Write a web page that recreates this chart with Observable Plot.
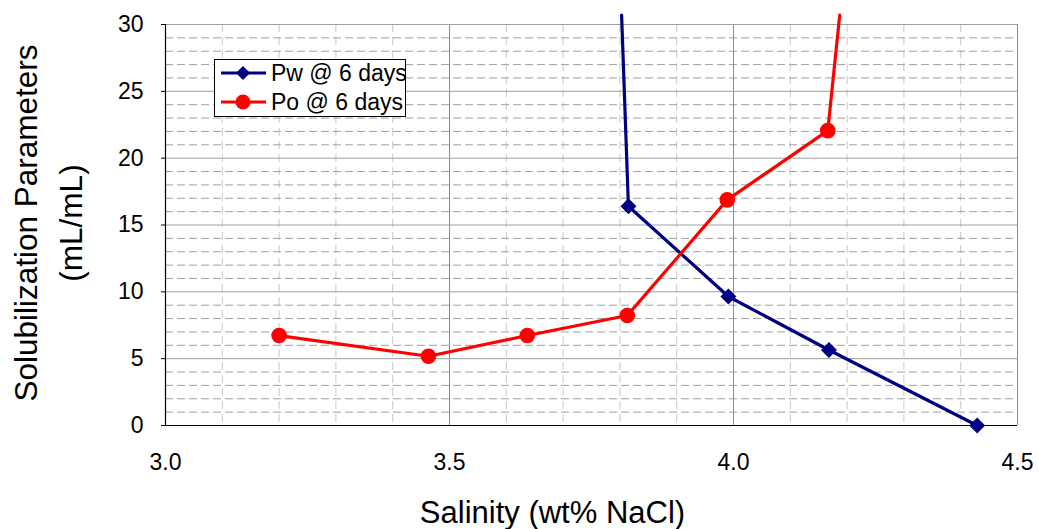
<!DOCTYPE html>
<html><head><meta charset="utf-8">
<script src="https://cdn.jsdelivr.net/npm/d3@7"></script>
<script src="https://cdn.jsdelivr.net/npm/@observablehq/plot@0.6"></script>
<style>
body{margin:0;background:#fff;font-family:"Liberation Sans",Arial,sans-serif}
#wrap{position:relative;width:1038px;height:529px}
#legend{position:absolute;left:214px;top:59px;width:190px;height:56px;border:1px solid #000;background:#fff}
.entry{position:absolute;left:6px;height:28px;display:flex;align-items:center;font-size:23px;color:#000;white-space:nowrap}
.entry svg{margin-right:5px}
</style></head><body><div id="wrap"></div>
<script>
// ---- data ----
const seriesNames = ["Pw @ 6 days", "Po @ 6 days"];
const seriesColors = ["#000080", "#ff0000"];
const pwSalinity = [3.815, 3.991, 4.168, 4.429];
const pwValue = [16.4, 9.65, 5.65, 0.0];
const poSalinity = [3.20, 3.463, 3.637, 3.813, 3.989, 4.166];
const poValue = [6.73, 5.18, 6.73, 8.23, 16.88, 22.06];
// lines continue off the top of the plot area
const pwOffSalinity = [3.803];
const pwOffValue = [30.7];
const poOffSalinity = [4.187];
const poOffValue = [30.7];
const xTicks = [3.0, 3.5, 4.0, 4.5];
const yTicks = [0, 5, 10, 15, 20, 25, 30];
const xTitle = "Salinity (wt% NaCl)";
const yTitle = "Solubilization Parameters\n(mL/mL)";

const pw = pwSalinity.map((x, i) => ({x, y: pwValue[i]}));
const po = poSalinity.map((x, i) => ({x, y: poValue[i]}));
const pwLine = [{x: pwOffSalinity[0], y: pwOffValue[0]}, ...pw];
const poLine = [...po, {x: poOffSalinity[0], y: poOffValue[0]}];

const xMinor = d3.range(31, 45).map(d => d / 10).filter(d => Math.abs(d * 2 - Math.round(d * 2)) > 1e-6);
const yMinor = d3.range(1, 30).filter(d => d % 5 !== 0);
const xMajorInner = xTicks.filter(d => d > 3.0);
const yMajorInner = yTicks.filter(d => d > 0);

const chart = Plot.plot({
  width: 1038, height: 529,
  marginLeft: 165, marginRight: 21, marginTop: 24, marginBottom: 104,
  style: {fontFamily: '"Liberation Sans", Arial, sans-serif', background: "#fff", color: "#000"},
  x: {domain: [3.0, 4.5]},
  y: {domain: [0, 30]},
  marks: [
    Plot.ruleX(xMinor, {stroke: "#c8c8c8", strokeWidth: 1, strokeDasharray: "8,5"}),
    Plot.ruleY(yMinor, {stroke: "#a0a0a0", strokeWidth: 1, strokeDasharray: "8,4"}),
    Plot.ruleX(xMajorInner, {stroke: "#8c8c8c", strokeWidth: 1}),
    Plot.ruleY(yMajorInner, {stroke: "#a0a0a0", strokeWidth: 1}),
    Plot.ruleY([0], {stroke: "#000", strokeWidth: 1.2}),
    Plot.ruleX([3.0], {stroke: "#000", strokeWidth: 1.2}),
    Plot.axisY(yTicks, {label: null, tickSize: 4, tickPadding: 18, fontSize: 23, tickFormat: d => String(d), stroke: "#000"}),
    Plot.axisX(xTicks, {label: null, tickSize: 0, tickPadding: 28, fontSize: 23, tickFormat: d3.format(".1f")}),
    Plot.line(pwLine, {x: "x", y: "y", stroke: seriesColors[0], strokeWidth: 3.2}),
    Plot.line(poLine, {x: "x", y: "y", stroke: seriesColors[1], strokeWidth: 3.2}),
    Plot.dot(pw, {x: "x", y: "y", symbol: "diamond2", r: 7.2, fill: seriesColors[0], stroke: "none"}),
    Plot.dot(po, {x: "x", y: "y", symbol: "circle", r: 7.8, fill: seriesColors[1], stroke: "none"}),
    Plot.text([xTitle], {frameAnchor: "bottom", textAnchor: "middle", dx: -39, dy: 88, fontSize: 31, lineAnchor: "middle", fill: "#000"}),
    Plot.text([yTitle], {frameAnchor: "left", textAnchor: "middle", rotate: -90, dx: -120, dy: -2, fontSize: 31.5, lineHeight: 1.42, lineAnchor: "middle", fill: "#000"})
  ]
});
const wrap = document.getElementById("wrap");
wrap.appendChild(chart);

// legend
const legend = document.createElement("div");
legend.id = "legend";
seriesNames.forEach((name, i) => {
  const e = document.createElement("div");
  e.className = "entry";
  e.style.top = (i === 0 ? -1 : 28) + "px";
  const sym = i === 0
    ? `<path d="M22,6 L29,13 L22,20 L15,13 Z" fill="${seriesColors[i]}"/>`
    : `<circle cx="22" cy="13" r="7.5" fill="${seriesColors[i]}"/>`;
  e.innerHTML = `<svg width="45" height="26"><line x1="0" y1="13" x2="45" y2="13" stroke="${seriesColors[i]}" stroke-width="3.2"/>${sym}</svg><span>${name}</span>`;
  legend.appendChild(e);
});
wrap.appendChild(legend);
</script></body></html>
